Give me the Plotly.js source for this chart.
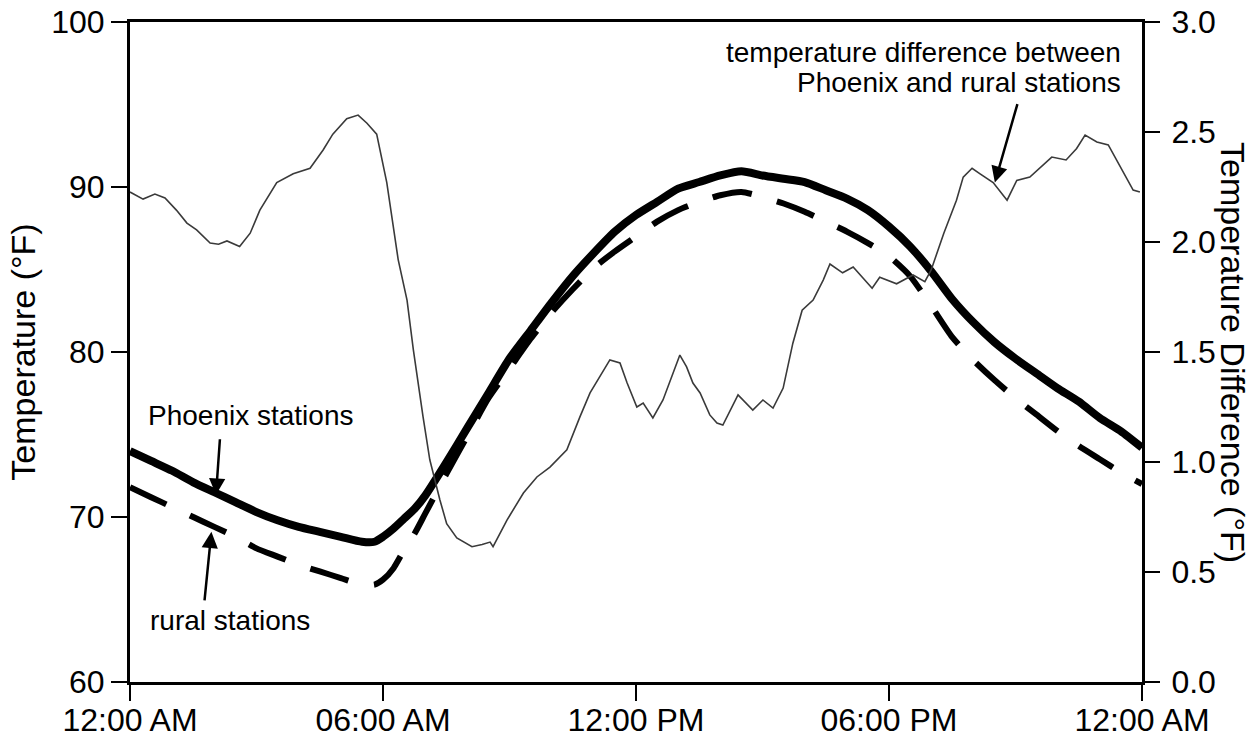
<!DOCTYPE html>
<html>
<head>
<meta charset="utf-8">
<script src="https://cdn.plot.ly/plotly-3.0.1.min.js"></script>
<style>
  html, body { margin: 0; padding: 0; background: #fff; }
  #chart { width: 1260px; height: 739px; }
</style>
</head>
<body>
<div id="chart"></div>
<script>
// ---- data (hours after midnight) ----
const tickHours = [0, 6, 12, 18, 24];
const tickLabels = ["12:00 AM", "06:00 AM", "12:00 PM", "06:00 PM", "12:00 AM"];

const phoenixHour = [0,0.5,1,1.5,2,2.5,3,3.5,4,4.5,5,5.5,5.8,6,6.25,6.5,6.75,7,7.5,8,8.5,9,9.5,10,10.5,11,11.5,12,12.5,13,13.5,14,14.5,15,15.5,16,16.5,17,17.5,18,18.5,19,19.5,20,20.5,21,21.5,22,22.5,23,23.5,24];
const phoenixTemp = [74.0,73.4,72.8,72.1,71.5,70.9,70.3,69.8,69.4,69.1,68.8,68.5,68.5,68.8,69.3,69.9,70.5,71.3,73.3,75.4,77.5,79.6,81.3,83.0,84.6,86.0,87.3,88.3,89.1,89.9,90.3,90.7,90.95,90.7,90.5,90.3,89.8,89.3,88.6,87.6,86.4,84.9,83.2,81.8,80.6,79.6,78.7,77.8,77.0,76.0,75.2,74.2];

const ruralHour = [0,0.5,1,1.5,2,2.5,3,3.5,4,4.5,5,5.5,5.8,6,6.25,6.5,6.75,7,7.5,8,8.5,9,9.5,10,10.5,11,11.5,12,12.5,13,13.5,14,14.5,15,15.5,16,16.5,17,17.5,18,18.5,19,19.5,20,20.5,21,21.5,22,22.5,23,23.5,24];
const ruralTemp = [71.8,71.2,70.6,70.0,69.4,68.8,68.1,67.6,67.1,66.7,66.3,65.9,65.9,66.2,66.9,68.0,69.0,70.2,72.6,74.9,77.2,79.0,80.8,82.4,83.8,85.1,86.1,87.0,87.9,88.6,89.1,89.5,89.7,89.4,89.0,88.5,87.9,87.3,86.6,85.8,84.6,82.8,80.9,79.5,78.3,77.2,76.2,75.2,74.3,73.5,72.7,72.0];

const diffHour = [0,0.31,0.59,0.83,1.1,1.35,1.58,1.9,2.1,2.3,2.6,2.85,3.08,3.48,3.87,4.27,4.58,4.81,5.14,5.41,5.62,5.85,6.09,6.36,6.57,6.72,6.95,7.11,7.35,7.51,7.75,8.11,8.35,8.54,8.61,8.94,9.33,9.65,9.96,10.36,10.67,10.91,11.38,11.62,11.79,12.02,12.17,12.4,12.64,13.04,13.2,13.35,13.52,13.75,13.92,14.06,14.42,14.77,15.01,15.25,15.49,15.72,15.94,16.2,16.44,16.6,16.9,17.15,17.6,17.78,18.18,18.57,18.85,19.0,19.3,19.6,19.76,19.97,20.16,20.47,20.8,21.03,21.34,21.58,21.86,22.2,22.45,22.65,22.93,23.2,23.48,23.79,23.95];
const diffValue = [2.227,2.195,2.218,2.2,2.145,2.086,2.055,1.995,1.99,2.005,1.98,2.04,2.145,2.27,2.31,2.335,2.418,2.49,2.56,2.577,2.54,2.49,2.27,1.92,1.736,1.51,1.205,1.01,0.827,0.72,0.655,0.615,0.625,0.636,0.615,0.736,0.859,0.932,0.977,1.055,1.205,1.314,1.464,1.45,1.359,1.25,1.268,1.2,1.282,1.486,1.432,1.359,1.314,1.214,1.177,1.168,1.305,1.236,1.282,1.245,1.336,1.54,1.69,1.736,1.827,1.9,1.86,1.886,1.79,1.84,1.81,1.85,1.82,1.873,2.04,2.19,2.295,2.335,2.31,2.27,2.19,2.28,2.295,2.335,2.386,2.373,2.425,2.486,2.455,2.441,2.341,2.236,2.227];

const FONT = "Liberation Sans, Arial, Helvetica, sans-serif";

const traces = [
  { x: diffHour, y: diffValue, yaxis: "y2", mode: "lines",
    line: { color: "#3a3a3a", width: 1.6 }, name: "difference", hoverinfo: "skip" },
  { x: ruralHour, y: ruralTemp, mode: "lines",
    line: { color: "#000", width: 6, dash: "40px,26px", shape: "spline", smoothing: 0.6 }, name: "rural stations" },
  { x: phoenixHour, y: phoenixTemp, mode: "lines",
    line: { color: "#000", width: 8, shape: "spline", smoothing: 0.6 }, name: "Phoenix stations" }
];

const axisCommon = {
  showgrid: false, zeroline: false, showline: true, linecolor: "#000", linewidth: 3,
  ticks: "outside", tickcolor: "#000", tickwidth: 1.5,
  tickfont: { family: FONT, size: 32, color: "#000" }
};

const layout = {
  width: 1260, height: 739,
  margin: { l: 130, r: 118, t: 22, b: 57 },
  paper_bgcolor: "#fff", plot_bgcolor: "#fff",
  showlegend: false,
  font: { family: FONT, color: "#000" },
  xaxis: Object.assign({}, axisCommon, {
    range: [0, 24], tickmode: "array", tickvals: tickHours, ticktext: tickLabels,
    ticklen: 16, mirror: true, ticklabelstandoff: -8
  }),
  yaxis: Object.assign({}, axisCommon, {
    range: [60, 100], tickmode: "array", tickvals: [60, 70, 80, 90, 100],
    ticklen: 16,
    title: { text: "Temperature (°F)", font: { family: FONT, size: 34, color: "#000" }, standoff: 6 }
  }),
  yaxis2: Object.assign({}, axisCommon, {
    range: [0, 3], overlaying: "y", side: "right",
    tickmode: "array", tickvals: [0, 0.5, 1, 1.5, 2, 2.5, 3], tickformat: ".1f",
    ticklen: 15, ticklabelstandoff: 5
  }),
  annotations: [
    { xref: "paper", yref: "paper", x: 1.0899, y: 0.4985, xanchor: "center", yanchor: "middle",
      text: "Temperature Difference (°F)", textangle: 90, showarrow: false,
      font: { family: FONT, size: 34, color: "#000" } },
    { xref: "paper", yref: "paper", x: 0.1186, y: 0.4045, xanchor: "center", yanchor: "middle",
      text: "Phoenix stations", showarrow: false, font: { family: FONT, size: 28, color: "#000" } },
    { xref: "paper", yref: "paper", x: 0.0988, y: 0.0939, xanchor: "center", yanchor: "middle",
      text: "rural stations", showarrow: false, font: { family: FONT, size: 28, color: "#000" } },
    { xref: "paper", yref: "paper", x: 0.9812, y: 0.9545, xanchor: "right", yanchor: "middle",
      text: "temperature difference between", showarrow: false, font: { family: FONT, size: 28, color: "#000" } },
    { xref: "paper", yref: "paper", x: 0.9812, y: 0.9076, xanchor: "right", yanchor: "middle",
      text: "Phoenix and rural stations", showarrow: false, font: { family: FONT, size: 28, color: "#000" } },
    // arrows
    { xref: "x", yref: "y", x: 2.04, y: 71.35, text: "", showarrow: true, ax: 4, ay: -57,
      arrowhead: 2, arrowsize: 1.3, arrowwidth: 2.5, arrowcolor: "#000" },
    { xref: "x", yref: "y", x: 1.93, y: 69.1, text: "", showarrow: true, ax: -7, ay: 70,
      arrowhead: 2, arrowsize: 1.3, arrowwidth: 2.5, arrowcolor: "#000" },
    { xref: "x", yref: "y2", x: 20.51, y: 2.27, text: "", showarrow: true, ax: 23, ay: -80,
      arrowhead: 2, arrowsize: 1.3, arrowwidth: 2.5, arrowcolor: "#000" }
  ]
};

Plotly.newPlot("chart", traces, layout, { staticPlot: true, displayModeBar: false });
</script>
</body>
</html>
